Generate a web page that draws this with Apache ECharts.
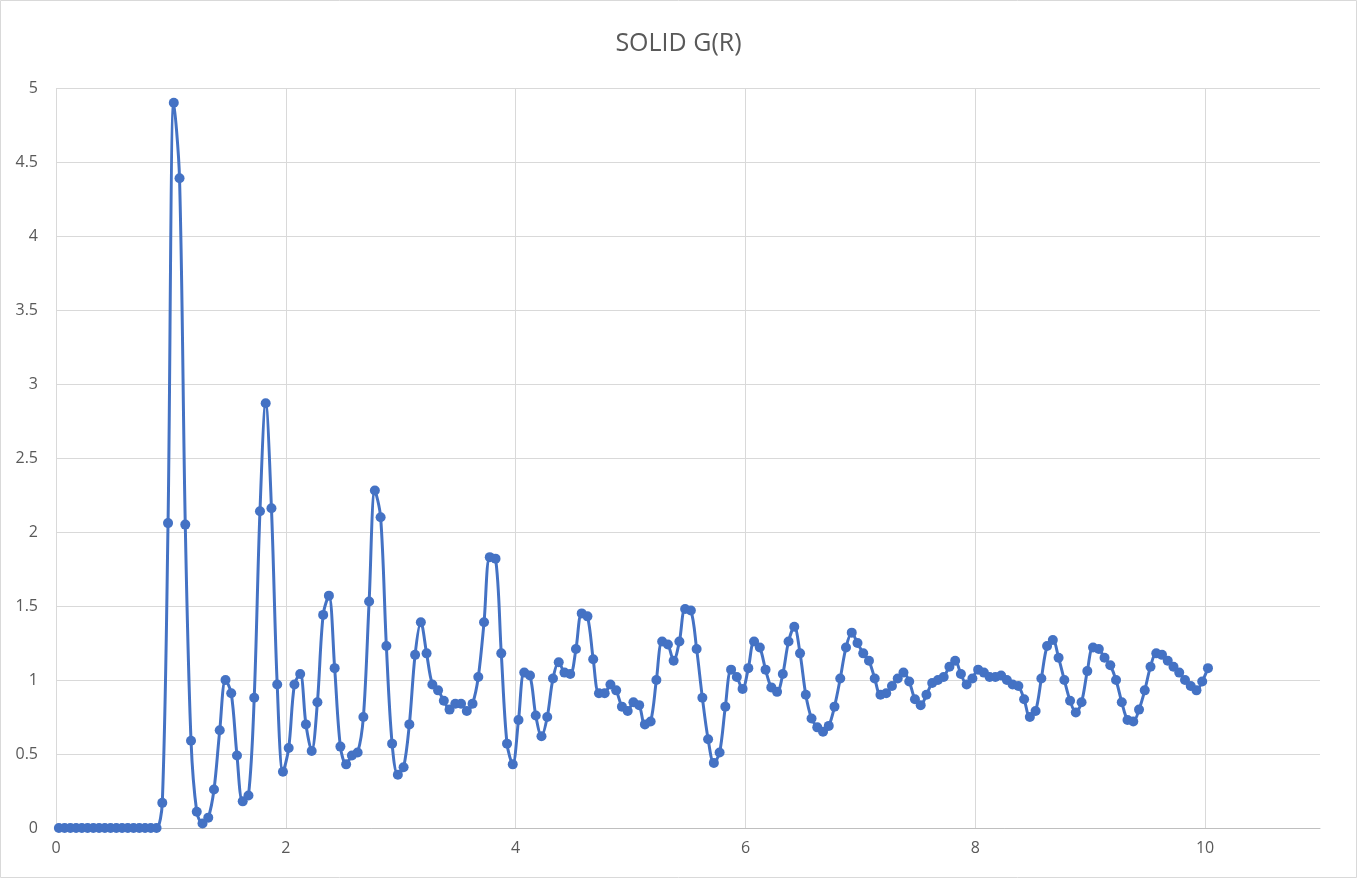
<!DOCTYPE html>
<html>
<head>
<meta charset="utf-8">
<script src="https://cdn.jsdelivr.net/npm/echarts@6/dist/echarts.min.js"></script>
<style>
html,body{margin:0;padding:0;background:#fff;}
#c{width:1357px;height:878px;}
</style>
</head>
<body>
<div id="c"></div>
<script>
const title = 'SOLID G(R)';
const rValues = [
0.025,0.075,0.125,0.175,0.225,0.275,0.325,0.375,0.425,0.475,
0.525,0.575,0.625,0.675,0.725,0.775,0.825,0.875,0.925,0.975,
1.025,1.075,1.125,1.175,1.225,1.275,1.325,1.375,1.425,1.475,
1.525,1.575,1.625,1.675,1.725,1.775,1.825,1.875,1.925,1.975,
2.025,2.075,2.125,2.175,2.225,2.275,2.325,2.375,2.425,2.475,
2.525,2.575,2.625,2.675,2.725,2.775,2.825,2.875,2.925,2.975,
3.025,3.075,3.125,3.175,3.225,3.275,3.325,3.375,3.425,3.475,
3.525,3.575,3.625,3.675,3.725,3.775,3.825,3.875,3.925,3.975,
4.025,4.075,4.125,4.175,4.225,4.275,4.325,4.375,4.425,4.475,
4.525,4.575,4.625,4.675,4.725,4.775,4.825,4.875,4.925,4.975,
5.025,5.075,5.125,5.175,5.225,5.275,5.325,5.375,5.425,5.475,
5.525,5.575,5.625,5.675,5.725,5.775,5.825,5.875,5.925,5.975,
6.025,6.075,6.125,6.175,6.225,6.275,6.325,6.375,6.425,6.475,
6.525,6.575,6.625,6.675,6.725,6.775,6.825,6.875,6.925,6.975,
7.025,7.075,7.125,7.175,7.225,7.275,7.325,7.375,7.425,7.475,
7.525,7.575,7.625,7.675,7.725,7.775,7.825,7.875,7.925,7.975,
8.025,8.075,8.125,8.175,8.225,8.275,8.325,8.375,8.425,8.475,
8.525,8.575,8.625,8.675,8.725,8.775,8.825,8.875,8.925,8.975,
9.025,9.075,9.125,9.175,9.225,9.275,9.325,9.375,9.425,9.475,
9.525,9.575,9.625,9.675,9.725,9.775,9.825,9.875,9.925,9.975,
10.025
];
const gValues = [
0,0,0,0,0,0,0,0,0,0,
0,0,0,0,0,0,0,0,0.17,2.06,
4.90,4.39,2.05,0.59,0.11,0.03,0.07,0.26,0.66,1.00,
0.91,0.49,0.18,0.22,0.88,2.14,2.87,2.16,0.97,0.38,
0.54,0.97,1.04,0.70,0.52,0.85,1.44,1.57,1.08,0.55,
0.43,0.49,0.51,0.75,1.53,2.28,2.10,1.23,0.57,0.36,
0.41,0.70,1.17,1.39,1.18,0.97,0.93,0.86,0.80,0.84,
0.84,0.79,0.84,1.02,1.39,1.83,1.82,1.18,0.57,0.43,
0.73,1.05,1.03,0.76,0.62,0.75,1.01,1.12,1.05,1.04,
1.21,1.45,1.43,1.14,0.91,0.91,0.97,0.93,0.82,0.79,
0.85,0.83,0.70,0.72,1.00,1.26,1.24,1.13,1.26,1.48,
1.47,1.21,0.88,0.60,0.44,0.51,0.82,1.07,1.02,0.94,
1.08,1.26,1.22,1.07,0.95,0.92,1.04,1.26,1.36,1.18,
0.90,0.74,0.68,0.65,0.69,0.82,1.01,1.22,1.32,1.25,
1.18,1.13,1.01,0.90,0.91,0.96,1.01,1.05,0.99,0.87,
0.83,0.90,0.98,1.00,1.02,1.09,1.13,1.04,0.97,1.01,
1.07,1.05,1.02,1.02,1.03,1.00,0.97,0.96,0.87,0.75,
0.79,1.01,1.23,1.27,1.15,1.00,0.86,0.78,0.85,1.06,
1.22,1.21,1.15,1.10,1.00,0.85,0.73,0.72,0.80,0.93,
1.09,1.18,1.17,1.13,1.09,1.05,1.00,0.96,0.93,0.99,
1.08
];

const seriesData = rValues.map((r, i) => [r, gValues[i]]);
const FONT = 'Open Sans';
const chart = echarts.init(document.getElementById('c'), null, {renderer: 'canvas'});
chart.setOption({
  animation: false,
  backgroundColor: '#ffffff',
  title: {
    text: title,
    left: 'center',
    top: 26,
    textStyle: {fontFamily: FONT, fontSize: 25, fontWeight: 'normal', color: '#595959'}
  },
  graphic: [{
    type: 'rect',
    shape: {x: 0.5, y: 0.5, width: 1356, height: 877},
    style: {fill: 'none', stroke: '#d9d9d9', lineWidth: 1},
    silent: true
  }],
  grid: {left: 56, right: 37, top: 88, bottom: 50, containLabel: false},
  xAxis: {
    type: 'value',
    min: 0,
    max: 11,
    interval: 2,
    axisLine: {show: true, onZero: false, lineStyle: {color: '#bfbfbf', width: 1}},
    axisTick: {show: false},
    axisLabel: {showMaxLabel: false, margin: 12, fontFamily: FONT, fontSize: 16, color: '#595959'},
    splitLine: {show: true, showMaxLine: false, lineStyle: {color: '#d9d9d9', width: 1}}
  },
  yAxis: {
    type: 'value',
    min: 0,
    max: 5,
    interval: 0.5,
    axisLine: {show: false},
    axisTick: {show: false},
    axisLabel: {margin: 18, fontFamily: FONT, fontSize: 16, color: '#595959'},
    splitLine: {show: true, lineStyle: {color: '#d9d9d9', width: 1}}
  },
  series: [{
    type: 'line',
    data: seriesData,
    smooth: 0.33,
    symbol: 'circle',
    symbolSize: 10,
    showAllSymbol: true,
    lineStyle: {color: '#4472c4', width: 3},
    itemStyle: {color: '#4472c4'},
    z: 3
  }]
});
</script>
</body>
</html>
